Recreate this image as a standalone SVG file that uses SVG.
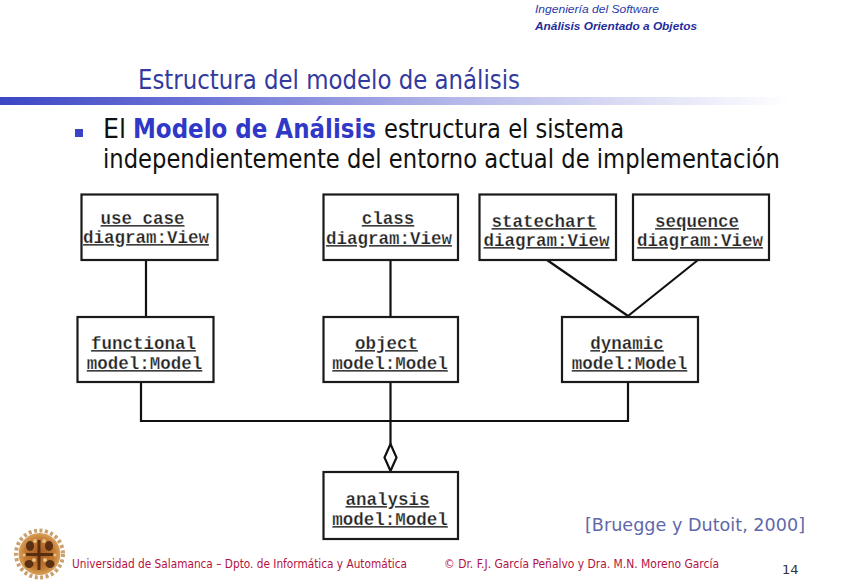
<svg xmlns="http://www.w3.org/2000/svg" width="848" height="587" viewBox="0 0 848 587">
<style>
.box{fill:#fff;stroke:#1a1a1a;stroke-width:2.2}
.m{font-family:"Liberation Mono",monospace;font-size:17.5px;font-weight:bold;fill:#222;text-anchor:middle;text-decoration:underline;stroke:#fff;stroke-width:.25}
.line{fill:none;stroke:#111;stroke-width:2.2}
.s{font-family:"DejaVu Sans",sans-serif}
.foot{font-family:"DejaVu Sans",sans-serif;font-size:12px;fill:#b3123f}
</style>
<defs>
<linearGradient id="bar" x1="0" x2="1" y1="0" y2="0">
<stop offset="0" stop-color="#3c46c4"/><stop offset=".25" stop-color="#6d74d6"/><stop offset=".6" stop-color="#b9bcea"/><stop offset="1" stop-color="#fff"/>
</linearGradient>
<radialGradient id="seal"><stop offset="0" stop-color="#a85a20"/><stop offset=".7" stop-color="#c27a30"/><stop offset="1" stop-color="#d9a05a"/></radialGradient>
</defs>
<rect width="848" height="587" fill="#fff"/>
<g id="header">
<text x="535" y="13" font-family="Liberation Sans,sans-serif" font-size="11" font-style="italic" fill="#2a3aa8" textLength="124" lengthAdjust="spacingAndGlyphs">Ingeniería del Software</text>
<text x="535" y="30" font-family="Liberation Sans,sans-serif" font-size="11" font-style="italic" font-weight="bold" fill="#1f2c9c" textLength="162" lengthAdjust="spacingAndGlyphs">Análisis Orientado a Objetos</text>
</g>
<g id="title">
<text class="s" x="138" y="89" font-size="26" fill="#333a9e" textLength="382" lengthAdjust="spacingAndGlyphs">Estructura del modelo de análisis</text>
<rect x="0" y="97" width="790" height="8" fill="url(#bar)"/>
</g>
<g id="bullet">
<rect x="75" y="129" width="8" height="8" fill="#3a42c8"/>
<text class="s" x="103" y="138" font-size="26" fill="#111" textLength="23" lengthAdjust="spacingAndGlyphs">El</text>
<text class="s" x="133" y="138" font-size="26" font-weight="bold" fill="#3038c8" textLength="243" lengthAdjust="spacingAndGlyphs">Modelo de Análisis</text>
<text class="s" x="384" y="138" font-size="26" fill="#111" textLength="240" lengthAdjust="spacingAndGlyphs">estructura el sistema</text>
<text class="s" x="103" y="168" font-size="26" fill="#111" textLength="677" lengthAdjust="spacingAndGlyphs">independientemente del entorno actual de implementación</text>
</g>
<g id="connectors">
<path class="line" d="M146 260V317M390.500 260V317M547 260L628 316M698 260L628 316M141 382V421H628V382M390.500 382V444"/>
<path class="line" d="M390.500 444L396.500 457.500L390.500 471L384.500 457.500Z" fill="#fff"/>
</g>
<g id="use-case"><rect class="box" x="81.500" y="194.500" width="136" height="65.500"/><text class="m" x="142.500" y="224">use case</text><text class="m" x="146" y="243">diagram:View</text></g>
<g id="class"><rect class="box" x="323.500" y="194.500" width="134.500" height="65.500"/><text class="m" x="388" y="224">class</text><text class="m" x="389" y="244">diagram:View</text></g>
<g id="statechart"><rect class="box" x="479.500" y="194.500" width="136.500" height="65.500"/><text class="m" x="544" y="227">statechart</text><text class="m" x="546.500" y="246">diagram:View</text></g>
<g id="sequence"><rect class="box" x="633" y="194.500" width="136" height="65.500"/><text class="m" x="697" y="227">sequence</text><text class="m" x="700" y="246">diagram:View</text></g>
<g id="functional"><rect class="box" x="77.500" y="317" width="136" height="65"/><text class="m" x="143.500" y="349">functional</text><text class="m" x="144.500" y="369">model:Model</text></g>
<g id="object"><rect class="box" x="323.500" y="317" width="134.500" height="65"/><text class="m" x="386.500" y="349">object</text><text class="m" x="390" y="369">model:Model</text></g>
<g id="dynamic"><rect class="box" x="562" y="317" width="136" height="65"/><text class="m" x="627" y="349">dynamic</text><text class="m" x="629.500" y="369">model:Model</text></g>
<g id="analysis"><rect class="box" x="323.500" y="472" width="134.500" height="67"/><text class="m" x="387.500" y="505">analysis</text><text class="m" x="390" y="525">model:Model</text></g>
<g id="citation"><text class="s" x="585" y="531" font-size="18" fill="#5f68a8" textLength="220" lengthAdjust="spacingAndGlyphs">[Bruegge y Dutoit, 2000]</text></g>
<g id="footer">
<circle cx="39.500" cy="554" r="23.500" fill="none" stroke="#c9a070" stroke-width="4" stroke-dasharray="3 2.500"/>
<circle cx="39.500" cy="554" r="21" fill="url(#seal)"/>
<g fill="#4a2410" opacity=".85">
<ellipse cx="29" cy="564" rx="4.500" ry="4"/><ellipse cx="50" cy="564" rx="4.500" ry="4"/>
<ellipse cx="30" cy="546" rx="4" ry="5"/><ellipse cx="49" cy="546" rx="4" ry="5"/>
<rect x="37.500" y="540" width="3" height="30"/><rect x="26" y="553" width="27" height="3"/>
</g>
<g fill="#e8c080"><circle cx="35" cy="541" r="2"/><circle cx="44" cy="541" r="2"/><circle cx="34" cy="560" r="2"/><circle cx="45" cy="560" r="2"/><circle cx="24" cy="555" r="1.500"/><circle cx="55" cy="555" r="1.500"/></g>
<text class="foot" x="72" y="568" textLength="335" lengthAdjust="spacingAndGlyphs">Universidad de Salamanca – Dpto. de Informática y Automática</text>
<text class="foot" x="444" y="568" textLength="275" lengthAdjust="spacingAndGlyphs">© Dr. F.J. García Peñalvo y Dra. M.N. Moreno García</text>
<text class="s" x="782" y="574" font-size="13" fill="#333">14</text>
</g>
</svg>
